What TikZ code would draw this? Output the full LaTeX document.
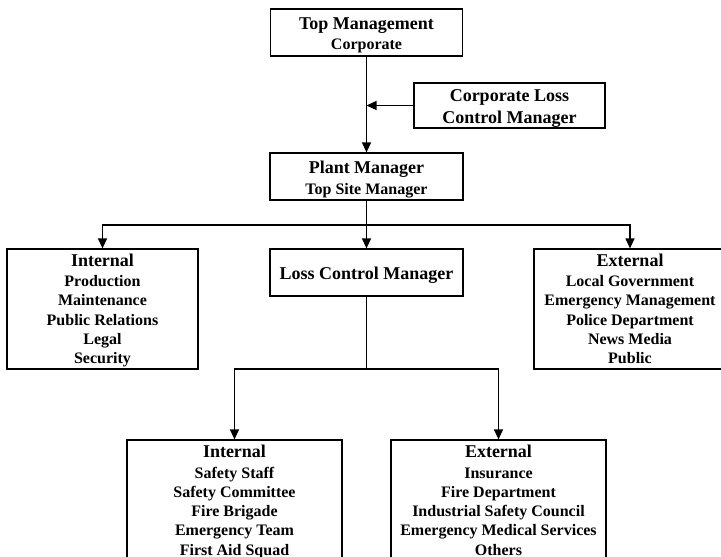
\documentclass[tikz,border=0pt]{standalone}
\usepackage{fontspec}
\setmainfont{Liberation Serif}
\usetikzlibrary{arrows.meta}
% heading line, larger type
\newcommand{\hd}[1]{{\fontsize{18}{21}\selectfont #1}}
% struts that give each box the same top and bottom text extent
\newcommand{\topfill}{\rule{0pt}{18pt}}
\newcommand{\headfill}{\rule{0pt}{15pt}}
\newcommand{\lastfill}{\vphantom{y}}
\tikzset{
  box/.style={draw, line width=1.2pt, inner sep=0pt, align=center,
    font=\fontsize{16}{19.2}\selectfont\bfseries},
  link/.style={line width=1.2pt},
  arr/.style={link, -{Triangle[length=10pt,width=9pt]}}
}
\begin{document}
\begin{tikzpicture}[x=1pt,y=-1pt]
\useasboundingbox (0,0) rectangle (721,557);
\clip (0,0) rectangle (721,557);

% management chain
\node[box, minimum width=192pt, minimum height=47pt] (top) at (366.5,32.5)
  {\topfill\hd{Top Management}\\[0.8pt]Corporate};
\node[box, minimum width=191pt, minimum height=45pt, font=\fontsize{18}{22}\selectfont\bfseries] (clcm) at (509.5,105.5)
  {\topfill Corporate Loss\\Control Manager};
\node[box, minimum width=193pt, minimum height=47pt] (plant) at (366.5,176.5)
  {\topfill\hd{Plant Manager}\\[1.8pt]Top Site Manager};

% second level
\node[box, minimum width=191pt, minimum height=120pt] (intA) at (102.5,309)
  {\headfill\hd{Internal}\\[1.5pt]Production\\Maintenance\\Public Relations\\Legal\\Security\lastfill};
\node[box, minimum width=193pt, minimum height=47pt] (lcm) at (366.5,272.5)
  {\topfill\hd{Loss Control Manager}};
\node[box, minimum width=192pt, minimum height=120pt] (extA) at (630,309)
  {\headfill\hd{External}\\[1.5pt]Local Government\\Emergency Management\\Police Department\\News Media\\Public\lastfill};

% third level
\node[box, minimum width=215pt, minimum height=121pt] (intB) at (234.5,500.5)
  {\headfill\hd{Internal}\\[1.5pt]Safety Staff\\Safety Committee\\Fire Brigade\\Emergency Team\\First Aid Squad\lastfill};
\node[box, minimum width=215pt, minimum height=121pt] (extB) at (498.5,500.5)
  {\headfill\hd{External}\\[1.5pt]Insurance\\Fire Department\\Industrial Safety Council\\Emergency Medical Services\\Others\lastfill};

% connectors
\draw[arr] (top.south) -- (plant.north);
\draw[arr] (clcm.west) -- (clcm.west -| top.south);

\coordinate (splitA) at (366.5,225);
\draw[link] (plant.south) -- (splitA);
\draw[arr] (splitA) -| (intA.north);
\draw[arr] (splitA) -| (extA.north);
\draw[arr] (splitA) -- (lcm.north);

\coordinate (splitB) at (366.5,369);
\draw[link] (lcm.south) -- (splitB);
\draw[arr] (splitB) -| (intB.north);
\draw[arr] (splitB) -| (extB.north);
\end{tikzpicture}
\end{document}
